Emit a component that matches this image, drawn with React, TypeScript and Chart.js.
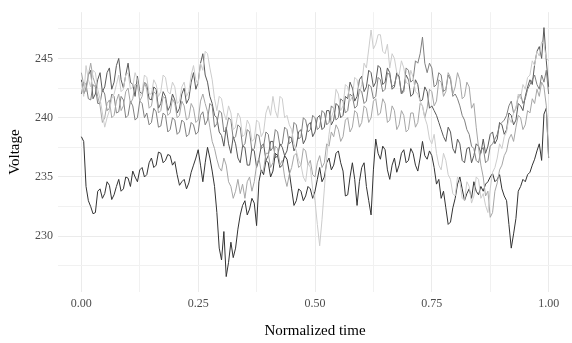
import React, { useEffect, useRef } from "react";
import { Chart, registerables } from "chart.js";

Chart.register(...registerables);

// normalized sample positions 0 .. 1 (201 samples)
const sampleCount = 201;
const times = Array.from({ length: sampleCount }, (_, i) => i / (sampleCount - 1));

const seriesA = [
  238.4, 238.0, 234.2, 233.0, 232.5, 231.9, 232.0, 233.8, 234.0, 233.2, 233.6, 234.6, 234.3, 233.1, 233.5, 234.2, 234.8, 233.8, 234.0, 235.0,
  234.9, 234.2, 235.5, 235.0, 234.6, 235.6, 235.8, 235.0, 235.2, 236.2, 236.6, 235.8, 236.0, 237.1, 237.0, 236.2, 236.4, 236.9, 236.8, 236.0,
  236.3, 235.2, 234.3, 234.6, 234.8, 234.0, 234.5, 235.4, 236.0, 236.6, 237.3, 236.0, 234.6, 236.2, 237.5, 236.6, 235.5, 234.2, 232.0, 229.0,
  228.0, 230.4, 226.6, 227.8, 229.5, 228.2, 229.0, 230.6, 231.8, 232.6, 233.0, 231.8, 232.3, 233.2, 232.8, 230.9, 234.6, 235.6, 235.2, 236.4,
  236.2, 235.0, 235.5, 237.0, 236.8, 235.8, 236.0, 236.8, 236.5, 235.4, 234.0, 232.6, 233.0, 234.0, 233.8, 233.0, 233.4, 234.2, 234.0, 233.2,
  233.8, 234.8, 235.8, 234.6, 235.0, 236.2, 236.6, 235.6, 236.0, 237.0, 237.2, 236.2, 235.5, 233.4, 233.5, 235.0, 236.2, 234.8, 232.6, 234.6,
  235.8, 236.2, 234.2, 233.0, 231.8, 235.6, 238.2, 237.0, 236.5, 237.6, 237.3, 235.6, 234.8, 236.0, 236.6, 235.4, 236.0, 237.0, 237.3, 236.2,
  236.4, 237.4, 237.0, 236.0, 235.5, 236.6, 238.0, 236.8, 236.5, 237.2, 236.8, 235.8, 234.4, 234.8, 233.2, 233.8, 232.4, 231.0, 231.2, 232.4,
  233.2, 234.4, 235.0, 234.0, 233.0, 233.6, 234.0, 233.2, 234.6, 233.8, 233.5, 234.2, 233.8, 234.4, 234.6, 235.0, 235.3, 234.6, 234.8, 235.2,
  234.0, 233.4, 233.0, 231.0, 229.0, 230.2, 231.5, 233.8, 234.2, 234.8, 234.6, 235.2, 235.4, 236.0, 236.5, 237.2, 237.8, 236.4, 240.3, 240.8,
  236.6,
];

const seriesB = [
  243.2, 242.0, 242.5, 243.6, 244.0, 241.6, 242.0, 243.2, 243.8, 242.2, 242.6, 243.8, 244.2, 242.4, 243.0, 244.4, 245.0, 243.2, 242.5, 243.6,
  244.6, 243.0, 242.8, 241.8, 243.5, 242.2, 242.0, 243.0, 242.8, 241.6, 241.5, 242.6, 242.4, 240.8, 241.2, 242.2, 241.8, 240.6, 241.0, 242.0,
  241.5, 240.4, 240.8, 242.0, 242.5, 241.2, 241.6, 243.0, 243.8, 242.4, 243.0, 244.6, 245.4, 243.6, 243.0, 241.8, 241.2, 240.2, 240.0, 238.8,
  238.5, 237.6, 239.2, 237.8, 237.0, 238.4, 237.8, 236.6, 236.2, 237.6, 237.5, 236.0, 236.0, 237.4, 237.2, 235.8, 236.5, 237.6, 237.8, 236.4,
  236.8, 238.0, 238.0, 236.6, 236.8, 237.8, 237.5, 236.8, 237.2, 238.4, 238.3, 237.2, 237.6, 238.8, 239.0, 237.8, 238.2, 239.4, 239.6, 238.4,
  238.8, 240.0, 240.2, 239.0, 239.2, 240.6, 240.6, 239.4, 239.8, 241.2, 241.0, 240.0, 240.2, 241.8, 241.6, 243.0, 242.5, 241.4, 241.8, 243.2,
  243.5, 242.2, 242.6, 244.0, 243.8, 242.6, 243.0, 244.4, 244.2, 242.8, 243.0, 244.2, 243.8, 242.4, 242.6, 243.8, 243.5, 242.0, 242.4, 243.6,
  243.2, 241.8, 242.0, 243.2, 242.8, 241.4, 241.5, 242.6, 242.2, 240.8, 241.0, 240.6, 240.2, 239.6, 239.0, 238.4, 238.0, 239.2, 238.8, 237.4,
  237.0, 238.2, 237.8, 236.4, 236.2, 237.4, 237.5, 236.2, 236.8, 237.8, 237.6, 237.0, 238.2, 237.0, 237.6, 238.6, 238.8, 237.8, 238.2, 239.6,
  239.4, 238.6, 239.0, 240.4, 240.2, 239.4, 239.8, 241.2, 241.0, 240.6, 241.8, 242.6, 243.2, 242.8, 244.5, 245.6, 246.0, 245.0, 247.6, 244.8,
  242.6,
];

const seriesC = [
  242.0, 243.0, 242.8, 241.6, 241.5, 242.8, 242.6, 241.2, 241.2, 242.4, 242.0, 240.6, 240.8, 242.0, 241.8, 240.4, 240.5, 241.8, 241.5, 240.0,
  240.2, 241.4, 241.0, 239.8, 240.0, 241.4, 241.2, 240.0, 240.4, 239.4, 239.6, 240.8, 240.5, 239.2, 239.3, 240.4, 240.2, 238.8, 239.0, 240.0,
  239.8, 238.6, 238.8, 239.8, 239.6, 238.4, 238.6, 239.6, 239.4, 238.6, 238.8, 240.2, 240.5, 239.4, 239.8, 241.2, 241.0, 239.2, 239.5, 240.6,
  240.4, 238.8, 239.0, 240.0, 239.8, 238.2, 238.4, 239.4, 239.2, 237.6, 237.8, 239.0, 238.8, 237.2, 237.4, 238.6, 238.5, 237.4, 237.6, 238.8,
  238.6, 237.2, 237.5, 239.0, 238.8, 237.6, 237.8, 239.2, 239.0, 237.8, 238.0, 239.6, 239.4, 238.2, 238.4, 240.0, 239.8, 238.8, 239.0, 240.2,
  240.0, 239.0, 239.2, 240.6, 240.4, 239.4, 239.6, 241.0, 240.8, 239.8, 240.0, 241.6, 241.4, 240.4, 240.6, 242.0, 241.8, 240.8, 241.0, 242.4,
  242.2, 241.2, 241.4, 242.8, 242.6, 241.6, 241.8, 243.4, 243.2, 242.2, 242.4, 243.8, 243.6, 242.6, 242.8, 243.6, 243.4, 242.0, 242.2, 244.2,
  244.0, 243.0, 243.2, 244.8, 244.6, 245.4, 246.8, 244.6, 243.8, 244.6, 244.2, 242.6, 242.8, 243.8, 243.6, 242.2, 242.4, 243.6, 243.2, 241.8,
  242.0, 241.6, 241.0, 240.2, 239.8, 239.0, 238.6, 237.6, 237.4, 236.4, 236.2, 237.2, 237.5, 236.2, 236.4, 237.6, 237.8, 238.2, 238.6, 239.4,
  239.6, 239.8, 240.2, 241.0, 241.4, 240.4, 240.8, 241.8, 242.0, 241.2, 241.6, 242.4, 242.8, 243.2, 243.6, 242.8, 242.4, 243.6, 243.0, 244.0,
  242.0,
];

const seriesD = [
  243.8, 242.8, 242.2, 243.6, 244.6, 243.4, 242.8, 241.8, 241.0, 239.6, 240.0, 241.2, 241.5, 240.0, 240.2, 241.4, 242.0, 240.6, 241.0, 242.2,
  242.5, 241.2, 241.6, 242.8, 242.8, 241.4, 241.8, 243.0, 242.4, 240.8, 241.0, 242.2, 242.0, 240.4, 240.6, 241.8, 241.6, 240.2, 240.4, 241.6,
  241.2, 240.0, 240.2, 241.4, 241.0, 239.8, 240.0, 241.2, 240.8, 239.6, 239.8, 241.4, 242.0, 241.2, 240.5, 239.2, 238.0, 237.4, 236.5, 235.8,
  235.5, 236.6, 236.0, 234.6, 234.2, 233.2, 233.8, 234.8, 233.6, 234.4, 233.2, 234.6, 235.0, 233.8, 234.6, 236.0, 236.6, 235.4, 235.6, 237.0,
  237.0, 235.8, 236.2, 237.6, 237.4, 236.0, 236.4, 235.0, 234.2, 235.2, 235.8, 236.8, 237.0, 235.8, 236.0, 237.4, 237.2, 236.0, 236.4, 235.2,
  235.0, 236.2, 236.8, 235.8, 236.2, 237.8, 237.6, 238.8, 238.4, 239.4, 239.0, 238.0, 238.4, 239.8, 240.0, 238.8, 239.2, 240.6, 240.4, 239.2,
  239.6, 241.0, 240.8, 239.6, 240.0, 241.4, 241.6, 240.2, 240.4, 241.6, 241.2, 239.6, 239.8, 241.0, 240.6, 239.0, 239.4, 240.6, 240.2, 238.8,
  239.0, 240.4, 240.4, 239.2, 239.6, 241.2, 241.0, 240.0, 240.8, 242.4, 242.2, 241.0, 241.4, 243.2, 243.0, 241.8, 242.2, 243.8, 243.4, 242.0,
  242.6, 243.8, 243.2, 241.6, 241.8, 243.0, 242.6, 240.8, 241.2, 239.2, 237.5, 236.0, 235.0, 233.4, 233.8, 231.6, 232.0, 233.8, 234.5, 235.6,
  236.0, 236.8, 237.2, 238.2, 238.6, 238.0, 239.2, 240.2, 240.0, 239.0, 239.4, 240.6, 240.4, 241.6, 241.2, 242.4, 241.8, 243.0, 242.6, 241.0,
  236.6,
];

const seriesE = [
  243.0, 241.8, 244.4, 243.2, 242.6, 244.0, 243.8, 242.4, 241.6, 240.4, 239.2, 240.0, 240.6, 241.6, 242.0, 242.8, 243.6, 242.2, 242.4, 243.6,
  243.8, 242.4, 242.6, 243.8, 243.2, 241.8, 242.2, 243.6, 243.4, 242.0, 242.0, 243.2, 242.8, 241.8, 242.2, 243.6, 243.4, 242.2, 242.0, 243.0,
  242.6, 241.2, 241.4, 242.6, 243.0, 241.8, 242.2, 243.6, 244.4, 243.2, 242.8, 244.6, 244.0, 245.6, 245.4, 244.2, 243.2, 241.6, 240.6, 241.8,
  241.6, 240.4, 239.8, 241.0, 240.4, 239.0, 239.2, 240.4, 240.0, 238.4, 238.6, 239.8, 239.4, 238.0, 238.2, 239.8, 239.6, 238.4, 238.8, 240.4,
  241.0, 240.2, 241.8, 240.6, 240.0, 241.8, 241.6, 240.0, 240.2, 239.4, 239.0, 237.8, 237.2, 236.4, 236.0, 235.0, 234.6, 236.2, 235.8, 234.0,
  233.0, 231.0, 229.2, 231.4, 234.0, 236.6, 238.6, 240.0, 240.6, 242.4, 242.0, 240.6, 241.0, 242.8, 242.6, 241.4, 241.8, 243.4, 243.2, 242.0,
  242.8, 244.6, 244.2, 245.8, 247.4, 245.8, 246.2, 247.0, 247.0, 245.6, 245.4, 246.2, 244.2, 245.4, 245.0, 243.8, 243.6, 244.8, 244.2, 243.0,
  242.8, 244.0, 243.4, 242.2, 242.0, 241.4, 241.0, 240.0, 239.4, 238.2, 237.8, 238.6, 237.0, 236.0, 235.6, 237.0, 236.4, 235.2, 234.8, 233.6,
  233.4, 235.0, 234.6, 233.2, 233.0, 234.6, 234.2, 232.8, 233.4, 235.0, 234.8, 233.2, 233.6, 232.6, 232.0, 234.0, 235.4, 235.8, 236.6, 237.8,
  237.4, 238.4, 238.8, 240.0, 239.6, 240.4, 240.8, 242.0, 241.6, 242.8, 242.4, 243.4, 243.6, 244.8, 244.4, 245.6, 245.2, 246.4, 246.2, 245.0,
  244.8,
];

const seriesColors = ["#333333", "#595959", "#7f7f7f", "#a6a6a6", "#cccccc"];
const seriesNames = ["1", "2", "3", "4", "5"];

const xMajor = [0, 0.25, 0.5, 0.75, 1.0];
const xLabels = ["0.00", "0.25", "0.50", "0.75", "1.00"];
const xMinor = [0.125, 0.375, 0.625, 0.875];
const yMajor = [230, 235, 240, 245];
const yLabels = ["230", "235", "240", "245"];
const yMinor = [227.5, 232.5, 237.5, 242.5, 247.5];

export default function App() {
  const ref = useRef<HTMLCanvasElement | null>(null);

  useEffect(() => {
    if (!ref.current) return;
    const all = [seriesA, seriesB, seriesC, seriesD, seriesE];
    const datasets = all.map((vals, i) => ({
      label: seriesNames[i],
      data: vals.map((v, j) => ({ x: times[j], y: v })),
      borderColor: seriesColors[i],
      backgroundColor: seriesColors[i],
      borderWidth: 1,
      pointRadius: 0,
      tension: 0,
      fill: false,
      order: all.length - i,
    }));

    const fontFam = "'Liberation Serif', 'Times New Roman', serif";
    const gridColor = (minors: number[]) => (ctx: any) =>
      ctx.tick && minors.some((m) => Math.abs(m - ctx.tick.value) < 1e-6) ? "#f1f1f1" : "#ebebeb";

    const chart = new Chart(ref.current, {
      type: "line",
      data: { datasets },
      options: {
        animation: false,
        responsive: false,
        maintainAspectRatio: false,
        layout: { padding: { top: 7, left: 0, right: 0, bottom: 0 } },
        plugins: { legend: { display: false }, tooltip: { enabled: false } },
        scales: {
          x: {
            type: "linear",
            min: -0.05,
            max: 1.05,
            afterBuildTicks: (scale: any) => {
              scale.ticks = [...xMajor, ...xMinor].sort((a, b) => a - b).map((v) => ({ value: v }));
            },
            afterFit: (scale: any) => {
              scale.height = 51;
            },
            ticks: {
              autoSkip: false,
              maxRotation: 0,
              padding: 5,
              color: "#4d4d4d",
              font: { family: fontFam, size: 12 },
              callback: (value: any) => {
                const k = xMajor.findIndex((m) => Math.abs(m - Number(value)) < 1e-6);
                return k >= 0 ? xLabels[k] : "";
              },
            },
            grid: { color: gridColor(xMinor), lineWidth: 1, drawTicks: false },
            border: { display: false },
            title: {
              display: true,
              text: "Normalized time",
              color: "#000000",
              font: { family: fontFam, size: 15 },
              padding: { top: 0, bottom: 3 },
            },
          },
          y: {
            type: "linear",
            min: 225.3,
            max: 248.9,
            afterBuildTicks: (scale: any) => {
              scale.ticks = [...yMajor, ...yMinor].sort((a, b) => a - b).map((v) => ({ value: v }));
            },
            afterFit: (scale: any) => {
              scale.width = 58;
            },
            ticks: {
              autoSkip: false,
              padding: 5,
              color: "#4d4d4d",
              font: { family: fontFam, size: 12 },
              callback: (value: any) => {
                const k = yMajor.findIndex((m) => Math.abs(m - Number(value)) < 1e-6);
                return k >= 0 ? yLabels[k] : "";
              },
            },
            grid: { color: gridColor(yMinor), lineWidth: 1, drawTicks: false },
            border: { display: false },
            title: {
              display: true,
              text: "Voltage",
              color: "#000000",
              font: { family: fontFam, size: 15 },
              padding: { top: 6, bottom: 0 },
            },
          },
        },
      },
    });
    return () => chart.destroy();
  }, []);

  return (
    <div style={{ position: "absolute", left: 0, top: 0, width: 572, height: 343, background: "#ffffff" }}>
      <canvas ref={ref} width={572} height={343} style={{ width: 572, height: 343, display: "block" }} />
    </div>
  );
}
